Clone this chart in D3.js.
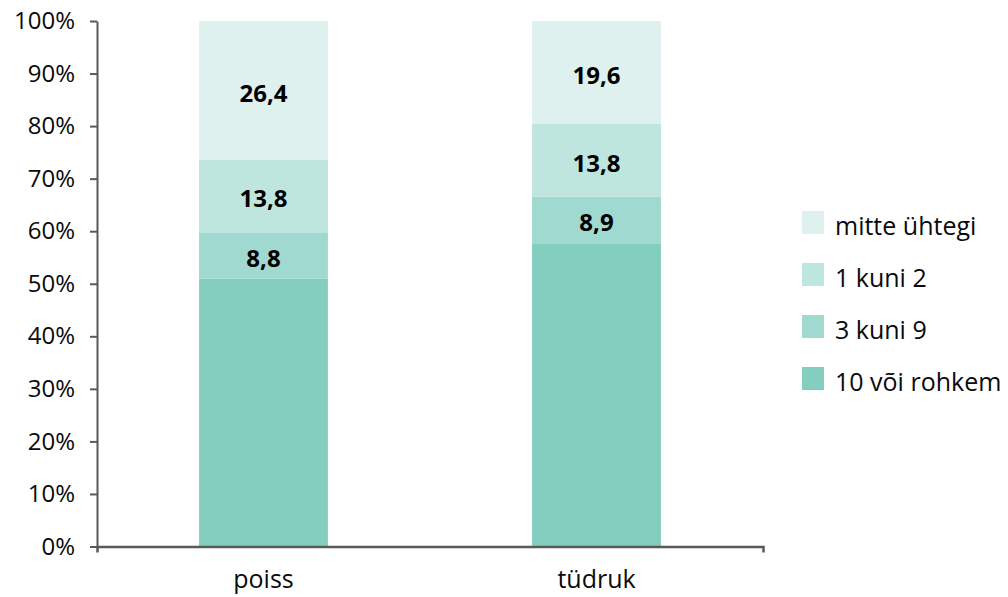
<!DOCTYPE html>
<html>
<head>
<meta charset="utf-8">
<script src="https://cdn.jsdelivr.net/npm/d3@7"></script>
<style>
  html, body { margin: 0; padding: 0; background: #ffffff; }
  svg { display: block; }
</style>
</head>
<body>
<svg id="chart" width="1008" height="597"></svg>
<script>
// Shares (%) by gender, stacked bottom to top
const categories = ["poiss", "tüdruk"];
const seriesNames = ["10 või rohkem", "3 kuni 9", "1 kuni 2", "mitte ühtegi"];
const tenOrMore = [51.0, 57.7];
const threeToNine = [8.8, 8.9];
const oneToTwo = [13.8, 13.8];
const none = [26.4, 19.6];
const yTicks = [0, 10, 20, 30, 40, 50, 60, 70, 80, 90, 100];
const seriesColors = ["#84cec0", "#a0d9cf", "#bfe6de", "#dff1ee"];

const seriesValues = [tenOrMore, threeToNine, oneToTwo, none];
const rows = categories.map((c, i) => {
  const r = { category: c };
  seriesNames.forEach((s, k) => { r[s] = seriesValues[k][i]; });
  return r;
});

const svg = d3.select("#chart");
const font = "'Open Sans', sans-serif";
const axisColor = "#595959";
const textColor = "#0a0a0a";

const x = d3.scaleBand().domain(categories).range([97, 763]).paddingInner(0.613).paddingOuter(0.3065);
const y = d3.scaleLinear().domain([0, 100]).range([546.5, 21]);
const color = d3.scaleOrdinal().domain(seriesNames).range(seriesColors);

const stacked = d3.stack().keys(seriesNames)(rows);

// Bars
const layers = svg.append("g").selectAll("g")
  .data(stacked).join("g")
  .attr("fill", d => color(d.key));

layers.selectAll("rect")
  .data(d => d.map(p => ({ key: d.key, p })))
  .join("rect")
  .attr("x", d => x(d.p.data.category))
  .attr("width", x.bandwidth())
  .attr("y", d => y(d.p[1]))
  .attr("height", d => y(d.p[0]) - y(d.p[1]));

// Value labels on the upper three segments
const labelled = stacked.filter(s => s.key !== "10 või rohkem");
svg.append("g").selectAll("text")
  .data(labelled.flatMap(s => s.map(p => ({ key: s.key, p }))))
  .join("text")
  .attr("x", d => x(d.p.data.category) + x.bandwidth() / 2)
  .attr("y", d => (y(d.p[0]) + y(d.p[1])) / 2 + 2)
  .attr("text-anchor", "middle")
  .attr("dominant-baseline", "central")
  .attr("font-family", font)
  .attr("font-weight", 700)
  .attr("font-size", 24)
  .attr("fill", "#000")
  .text(d => (d.p[1] - d.p[0]).toFixed(1).replace(".", ","));

// Y axis
const yAxis = svg.append("g")
  .attr("transform", "translate(97,0)")
  .call(d3.axisLeft(y).tickValues(yTicks).tickSize(7).tickSizeOuter(0).tickPadding(15)
    .tickFormat(d => d + "%"));
yAxis.select(".domain").attr("stroke", axisColor).attr("stroke-width", 2);
yAxis.selectAll(".tick line").attr("stroke", axisColor).attr("stroke-width", 2);
yAxis.selectAll(".tick text")
  .attr("font-family", font).attr("font-size", 24).attr("fill", textColor);

// X axis
const xAxis = svg.append("g")
  .attr("transform", "translate(0,546.5)")
  .call(d3.axisBottom(x).tickSize(0).tickSizeOuter(6).tickPadding(24));
xAxis.select(".domain").attr("stroke", axisColor).attr("stroke-width", 2.5);
xAxis.selectAll(".tick text")
  .attr("font-family", font).attr("font-size", 25).attr("fill", textColor);

// Legend, top series first
const legendItems = seriesNames.slice().reverse();
const legend = svg.append("g").attr("transform", "translate(802,211)");
const item = legend.selectAll("g").data(legendItems).join("g")
  .attr("transform", (d, i) => `translate(0,${i * 52})`);
item.append("rect").attr("width", 22).attr("height", 23).attr("fill", d => color(d));
item.append("text")
  .attr("x", 33).attr("y", 14)
  .attr("dominant-baseline", "central")
  .attr("font-family", font).attr("font-size", 25).attr("fill", textColor)
  .text(d => d);
</script>
</body>
</html>
